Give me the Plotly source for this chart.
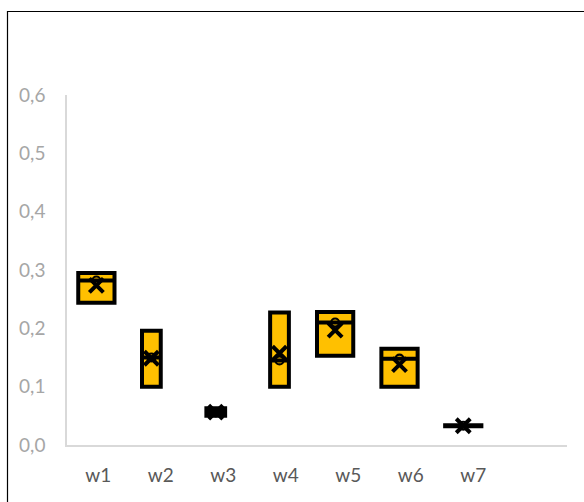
import numpy as np
import plotly.graph_objects as go

# Weekly samples (three readings per week)
weeks = ["w1", "w2", "w3", "w4", "w5", "w6", "w7"]
w1 = [0.244, 0.282, 0.295]
w2 = [0.100, 0.150, 0.196]
w3 = [0.050, 0.056, 0.063]
w4 = [0.100, 0.145, 0.227]
w5 = [0.153, 0.210, 0.228]
w6 = [0.100, 0.148, 0.165]
w7 = [0.032, 0.033, 0.034]
samples = [w1, w2, w3, w4, w5, w6, w7]

y_ticks = [0.0, 0.1, 0.2, 0.3, 0.4, 0.5, 0.6]
y_tick_text = ["0,0", "0,1", "0,2", "0,3", "0,4", "0,5", "0,6"]

# Drawing style per box: width (in category units) and sideways shift
box_width = [0.58, 0.30, 0.30, 0.30, 0.58, 0.58, 0.58]
box_shift = [-0.03, -0.15, -0.12, -0.10, -0.21, -0.18, -0.16]

GOLD = "#FFC000"
fig = go.Figure()

pos = [i + s for i, s in enumerate(box_shift)]
for i, vals in enumerate(samples):
    fig.add_trace(go.Box(
        y=vals, x=[pos[i]] * len(vals),
        width=box_width[i],
        quartilemethod="exclusive",
        boxpoints=False,
        whiskerwidth=0,
        fillcolor=GOLD,
        line=dict(color="black", width=4),
        showlegend=False,
        hoverinfo="skip",
    ))

means = [float(np.mean(v)) for v in samples]
medians = [float(np.median(v)) for v in samples]

# median data point (inner point)
fig.add_trace(go.Scatter(
    x=pos, y=medians, mode="markers",
    marker=dict(symbol="circle-open", size=8, color="black",
                line=dict(width=2.2, color="black")),
    showlegend=False, hoverinfo="skip",
))
# mean marker
fig.add_trace(go.Scatter(
    x=pos, y=means, mode="markers",
    marker=dict(symbol="x-thin", size=14, color="black",
                line=dict(width=4, color="black")),
    showlegend=False, hoverinfo="skip",
))

# outer chart frame
fig.add_shape(type="rect", xref="paper", yref="paper",
              x0=(7.5 - 67) / 500, x1=1.5, y0=-0.5, y1=(445 - 11.5) / 350,
              line=dict(color="black", width=1.2), fillcolor="rgba(0,0,0,0)",
              layer="below")

fig.update_layout(
    width=584, height=502,
    margin=dict(l=67, r=17, t=95, b=57),
    paper_bgcolor="white", plot_bgcolor="white",
    font=dict(family="Lato, Carlito, Calibri, sans-serif"),
    xaxis=dict(
        range=[-0.5, 7.5],
        tickmode="array", tickvals=list(range(len(weeks))), ticktext=weeks,
        showgrid=False, zeroline=False,
        showline=True, linecolor="#D9D9D9", linewidth=2,
        ticks="", ticklabelstandoff=12,
        tickfont=dict(size=19, color="#595959"),
    ),
    yaxis=dict(
        range=[0, 0.6],
        tickmode="array", tickvals=y_ticks, ticktext=y_tick_text,
        showgrid=False, zeroline=False,
        showline=True, linecolor="#D9D9D9", linewidth=1.5,
        ticks="", ticklabelstandoff=16,
        tickfont=dict(size=19, color="#A6A6A6"),
    ),
)

fig.write_html("out.html")
